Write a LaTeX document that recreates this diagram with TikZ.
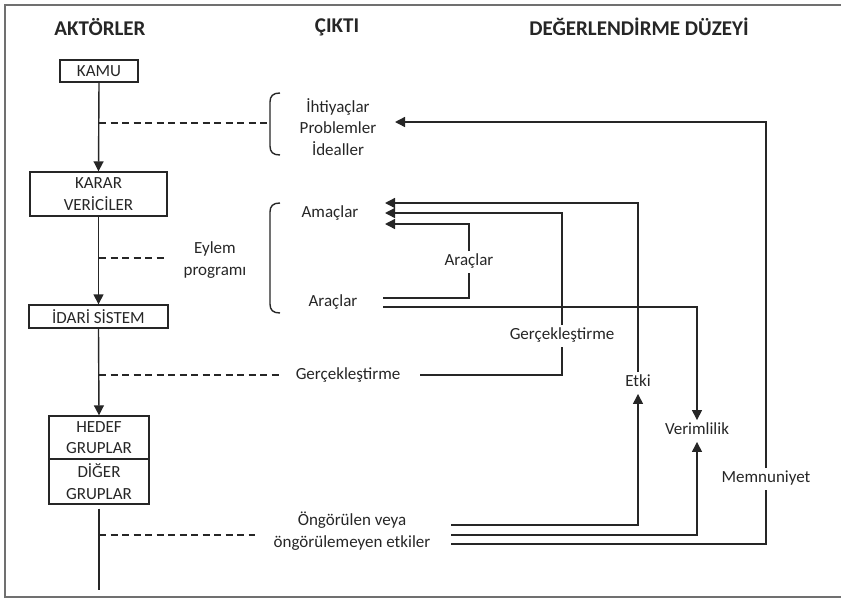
\documentclass[tikz,border=0pt]{standalone}
\usepackage{fontspec}
\setmainfont{Carlito}
\usetikzlibrary{arrows.meta}
\definecolor{ln}{HTML}{262626}
\definecolor{txt}{HTML}{262626}
\definecolor{framec}{HTML}{707070}
\begin{document}
\begin{tikzpicture}[x=1pt,y=-1pt,
  fnt/.style={font=\fontsize{17}{21.5}\selectfont, text=txt},
  lbl/.style={fnt, inner xsep=2pt, inner ysep=3pt, text height=11.5pt, text depth=4pt},
  mlbl/.style={fnt, align=center, inner sep=2pt},
  ttl/.style={font=\fontsize{21}{25}\bfseries\selectfont, text=txt},
  box/.style={draw=ln, line width=1.4pt, fnt, align=center, inner sep=0pt},
  con/.style={draw=ln, line width=1.4pt},
  arr/.style={con, -{Triangle[length=10pt,width=10pt]}},
  dsh/.style={con, dash pattern=on 7pt off 4.5pt},
  brc/.style={con}
]
\useasboundingbox (0,0) rectangle (841,598);
% frame
\draw[framec, line width=2pt] (4.5,598) -- (4.5,5) -- (841,5);
\draw[framec, line width=2pt] (4.5,597) -- (841,597);

% titles
\node[ttl] (tA) at (100,27) {AKTÖRLER};
\node[ttl] (tC) at (337,27) {ÇIKTI};
\node[ttl] (tD) at (639,27) {DEĞERLENDİRME DÜZEYİ};

% actor boxes
\node[box, minimum width=78pt, minimum height=22pt] (kamu) at (99,71) {KAMU};
\node[box, minimum width=137pt, minimum height=44pt] (karar) at (98.5,194) {KARAR\\VERİCİLER};
\node[box, minimum width=139pt, minimum height=23pt] (idari) at (98.5,316.5) {İDARİ SİSTEM};
\node[box, minimum width=100pt, minimum height=43pt] (hedef) at (99,437.5) {HEDEF\\GRUPLAR};
\node[box, minimum width=100pt, minimum height=45pt] (diger) at (99,481.5) {DİĞER\\GRUPLAR};
\coordinate (bot) at (99,590);

\draw[arr] (kamu.south) -- (karar.north);
\draw[arr] (karar.south) -- (idari.north);
\draw[arr] (idari.south) -- (hedef.north);
\draw[con] ([yshift=-4pt]diger.south) -- (bot);

% output texts
\node[mlbl] (ihti) at (338,127) {İhtiyaçlar\\Problemler\\İdealler};
\node[lbl] (amac) at (330,214) {Amaçlar};
\node[lbl] (arac1) at (333,303) {Araçlar};
\node[mlbl] (eylem) at (215,260) {Eylem\\programı};
\node[lbl] (gerc1) at (348,376) {Gerçekleştirme};
\node[mlbl, align=center] (ongor) at (352,531) {Öngörülen veya\\öngörülemeyen etkiler};

% braces
\draw[brc] (280,93) .. controls (273,93) and (270,96) .. (270,102) -- (270,146) .. controls (270,152) and (273,155) .. (280,155);
\coordinate (b1) at (270,123);
\draw[brc] (280,203) .. controls (273,203) and (270,206) .. (270,212) -- (270,304) .. controls (270,310) and (273,313) .. (280,313);

% dashed links
\coordinate (d1) at (99,123);
\coordinate (d2a) at (99,258);
\coordinate (d2b) at (167,258);
\coordinate (d3a) at (99,375);
\coordinate (d3b) at (283,375);
\coordinate (d4a) at (99,535);
\coordinate (d4b) at (255,535);
\draw[dsh] (d1) -- (b1);
\draw[dsh] (d2a) -- (d2b);
\draw[dsh] (d3a) -- (d3b);
\draw[dsh] (d4a) -- (d4b);

% evaluation labels
\node[lbl] (arac2) at (469,262) {Araçlar};
\node[lbl] (gerc2) at (562,336) {Gerçekleştirme};
\node[lbl] (etki) at (638,383) {Etki};
\node[lbl] (verim) at (697,431) {Verimlilik};
\node[lbl] (memn) at (766,479) {Memnuniyet};

% arrow tips / start points
\coordinate (tI) at (395,122);
\coordinate (tA1) at (385,203);
\coordinate (tA2) at (385,213);
\coordinate (tA3) at (385,224);
\coordinate (sAr) at (383,298);
\coordinate (sAr2) at (383,307);
\coordinate (sG) at (420,375);
\coordinate (s1) at (451,525);
\coordinate (s2) at (451,535);
\coordinate (s3) at (451,544);

% araçlar -> amaçlar
\draw[con] (sAr) -| (arac2.south);
\draw[arr] (arac2.north) |- (tA3);
% gerçekleştirme -> amaçlar
\draw[con] (sG) -| (gerc2.south);
\draw[arr] (gerc2.north) |- (tA2);
% etki
\draw[arr] (s1) -| (etki.south);
\draw[arr] (etki.north) |- (tA1);
% verimlilik
\draw[arr] (sAr2) -| (verim.north);
\draw[arr] (s2) -| (verim.south);
% memnuniyet
\draw[con] (s3) -| (memn.south);
\draw[arr] (memn.north) |- (tI);
\end{tikzpicture}
\end{document}
